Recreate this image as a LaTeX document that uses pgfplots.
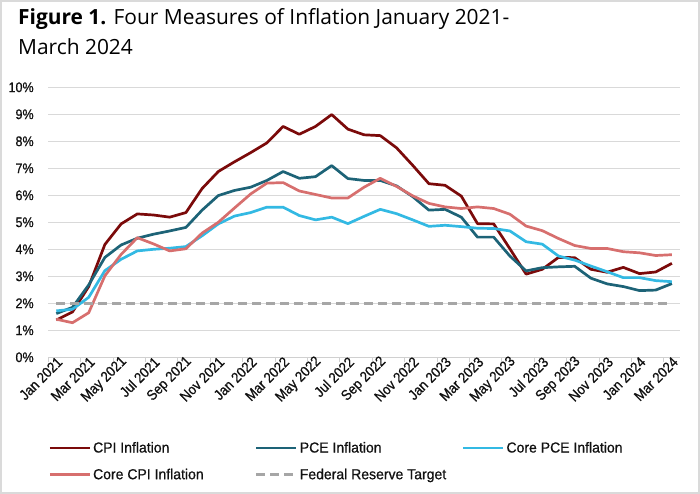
\documentclass[border=0pt]{standalone}
\usepackage{fontspec}
\usepackage{pgfplots}
\usepackage{pgfplotstable}
\pgfplotsset{compat=1.18}
\setmainfont{Open Sans}
\newfontfamily\titlefont{Open Sans}
\newfontfamily\tickfont[FakeStretch=0.9, FakeBold=0.8]{Liberation Sans}
\newfontfamily\legendfont[FakeStretch=0.97, FakeBold=0.8]{Liberation Sans}

\definecolor{cpi}{HTML}{7B0A0A}
\definecolor{pce}{HTML}{1D6377}
\definecolor{corepce}{HTML}{33B9E3}
\definecolor{corecpi}{HTML}{D76F6E}
\definecolor{fedgray}{HTML}{A6A6A6}
\definecolor{gridgray}{HTML}{D9D9D9}
\definecolor{framegray}{HTML}{DADADA}
\definecolor{axisgray}{HTML}{D0D0D0}
\definecolor{labeltext}{HTML}{111111}

% Year-over-year inflation, monthly, Jan 2021 (0) to Mar 2024 (38)
\pgfplotstableread{
idx cpi  pce  corepce corecpi
0   1.38 1.62 1.72 1.41
1   1.68 1.85 1.78 1.28
2   2.62 2.68 2.22 1.65
3   4.18 3.70 3.21 3.02
4   4.94 4.16 3.63 3.81
5   5.31 4.41 3.94 4.43
6   5.27 4.56 4.00 4.20
7   5.19 4.68 4.04 3.94
8   5.36 4.81 4.10 4.02
9   6.25 5.45 4.50 4.60
10  6.88 5.99 4.94 5.00
11  7.24 6.18 5.23 5.53
12  7.58 6.30 5.36 6.05
13  7.94 6.55 5.56 6.45
14  8.55 6.88 5.56 6.47
15  8.26 6.63 5.25 6.16
16  8.55 6.69 5.09 6.03
17  8.99 7.10 5.19 5.90
18  8.45 6.62 4.95 5.90
19  8.24 6.55 5.22 6.30
20  8.21 6.55 5.48 6.63
21  7.76 6.35 5.32 6.33
22  7.11 5.95 5.09 5.98
23  6.43 5.45 4.85 5.70
24  6.37 5.48 4.89 5.57
25  5.97 5.19 4.84 5.51
26  4.95 4.45 4.78 5.57
27  4.94 4.45 4.77 5.51
28  4.02 3.75 4.68 5.30
29  3.08 3.20 4.28 4.86
30  3.26 3.32 4.19 4.69
31  3.70 3.35 3.75 4.40
32  3.69 3.37 3.60 4.14
33  3.26 2.93 3.38 4.03
34  3.15 2.72 3.17 4.03
35  3.33 2.62 2.95 3.91
36  3.10 2.47 2.95 3.87
37  3.16 2.49 2.84 3.77
38  3.48 2.73 2.80 3.80
}\inflation

\pgfplotstableread{
idx target
0   2
38  2
}\fedtarget

\begin{document}
\begin{tikzpicture}
\path[use as bounding box] (0bp,0bp) rectangle (700bp,494bp);
\draw[framegray, line width=2bp] (1bp,1bp) rectangle (699bp,493bp);

\node[anchor=base west, inner sep=0pt, text=black,
      font=\titlefont\fontsize{21}{25}\selectfont] at (18bp,469bp)
  {\textbf{Figure 1.} Four Measures of Inflation January 2021-};
\node[anchor=base west, inner sep=0pt, text=black,
      font=\titlefont\fontsize{21}{25}\selectfont] at (18bp,439bp)
  {March 2024};

\begin{axis}[
  at={(48.2bp,136.7bp)}, anchor=south west,
  scale only axis, width=631.8bp, height=270bp,
  xmin=-0.5, xmax=38.5, ymin=0, ymax=10,
  axis x line*=bottom, axis y line*=left,
  y axis line style={draw=none},
  x axis line style={draw=axisgray, line width=1bp},
  ymajorgrids, grid style={gridgray, line width=1bp},
  ytick={0,1,...,10},
  yticklabels={0\%,1\%,2\%,3\%,4\%,5\%,6\%,7\%,8\%,9\%,10\%},
  major y tick style={draw=none},
  yticklabel style={xshift=-11bp, font=\tickfont\fontsize{14}{16}\selectfont, text=labeltext},
  xtick={0,2,...,38},
  xticklabels={Jan 2021,Mar 2021,May 2021,Jul 2021,Sep 2021,Nov 2021,
               Jan 2022,Mar 2022,May 2022,Jul 2022,Sep 2022,Nov 2022,
               Jan 2023,Mar 2023,May 2023,Jul 2023,Sep 2023,Nov 2023,
               Jan 2024,Mar 2024},
  major x tick style={draw=none},
  minor xtick={-0.5,1.5,...,37.5},
  minor x tick style={draw=axisgray, line width=1bp},
  tick align=outside, minor tick length=5bp, major tick length=0bp,
  xticklabel style={rotate=45, anchor=east, inner sep=1bp, yshift=-4bp, xshift=2bp,
                    font=\tickfont\fontsize{14.5}{17}\selectfont, text=labeltext},
  clip=false,
  legend columns=3,
  legend cell align=left,
  legend style={at={(0,-0.300)}, anchor=north west, draw=none, fill=none,
                inner sep=0pt, row sep=7.7bp,
                font=\legendfont\fontsize{14.5}{17}\selectfont, text=labeltext,
                nodes={inner xsep=2bp, inner ysep=2bp, text height=12bp, text depth=3bp}},
  legend image code/.code={\draw[#1] (0bp,0bp) -- (40bp,0bp);},
  every axis plot/.append style={line width=2.7bp, line join=round},
]
\addplot[cpi]     table[x=idx, y=cpi]     {\inflation};
\addlegendentry{\makebox[160bp][l]{CPI Inflation}}
\addplot[pce]     table[x=idx, y=pce]     {\inflation};
\addlegendentry{\makebox[160bp][l]{PCE Inflation}}
\addplot[corepce] table[x=idx, y=corepce] {\inflation};
\addlegendentry{Core PCE Inflation}
\addplot[corecpi] table[x=idx, y=corecpi] {\inflation};
\addlegendentry{\makebox[160bp][l]{Core CPI Inflation}}
\addplot[fedgray, dash pattern=on 9bp off 5bp]
  table[x=idx, y=target] {\fedtarget};
\addlegendentry{Federal Reserve Target}
\end{axis}
\end{tikzpicture}
\end{document}
